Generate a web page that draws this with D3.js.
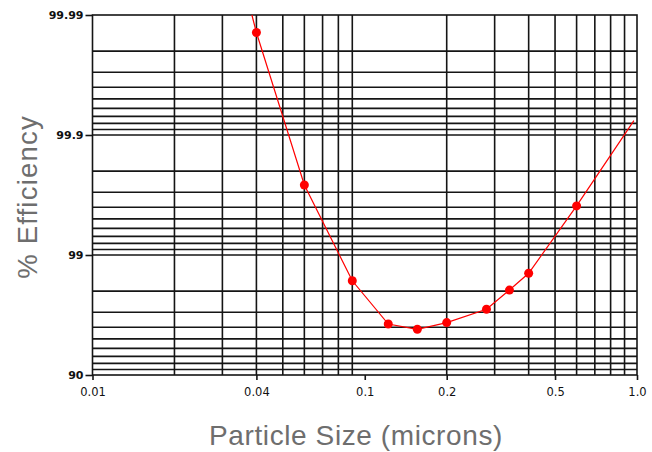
<!DOCTYPE html>
<html><head><meta charset="utf-8">
<script src="https://cdn.jsdelivr.net/npm/d3@7"></script>
<style>body{margin:0;background:#fff}svg{display:block}</style>
</head><body>
<svg id="c" width="652" height="452"></svg>
<script>
// Particle size (microns) and % efficiency
const sizes      = [0.0385, 0.04,   0.06,   0.09,  0.122, 0.156, 0.2,   0.28,  0.34,  0.4,   0.6,   0.974];
const efficiency = [99.99,  99.986, 99.739, 98.36, 96.24, 95.84, 96.34, 97.17, 98.04, 98.58, 99.61, 99.924];
const marked     = [false,  true,   true,   true,  true,  true,  true,  true,  true,  true,  true,  false];

const xTickValues = [0.01, 0.04, 0.1, 0.2, 0.5, 1];
const xTickLabels = ["0.01", "0.04", "0.1", "0.2", "0.5", "1.0"];
const yTickValues = [90, 99, 99.9, 99.99];
const yTickLabels = ["90", "99", "99.9", "99.99"];
const xTitle = "Particle Size (microns)";
const yTitle = "% Efficiency";

const L = 92.5, R = 637, T = 15, B = 375;
const svg = d3.select("#c");
const x = d3.scaleLog().domain([0.01, 1]).range([L, R]);
// y axis is log of penetration (100 - efficiency), high efficiency at top
const y = d3.scaleLog().domain([0.01, 10]).range([T, B]);
const pen = e => 100 - e;

const gridCol = "#151515", gridW = 1.6;

// vertical gridlines (the reference has one line between 0.08 and 0.2, sitting at 0.09)
const xGrid = x.ticks().filter(v => Math.abs(v - 0.1) > 1e-9 && v > 0.0101 && v < 0.99);
svg.append("g").selectAll("line").data(xGrid).join("line")
  .attr("x1", d => x(d)).attr("x2", d => x(d)).attr("y1", T).attr("y2", B)
  .attr("stroke", gridCol).attr("stroke-width", gridW);

// horizontal gridlines
const yGrid = y.ticks().filter(v => v > 0.0101 && v < 9.99);
svg.append("g").selectAll("line").data(yGrid).join("line")
  .attr("y1", d => y(d)).attr("y2", d => y(d)).attr("x1", L).attr("x2", R)
  .attr("stroke", gridCol).attr("stroke-width", gridW);

// frame
svg.append("rect").attr("x", L).attr("y", T).attr("width", R - L).attr("height", B - T)
  .attr("fill", "none").attr("stroke", gridCol).attr("stroke-width", gridW);

// axes
const xAxis = d3.axisBottom(x).tickValues(xTickValues)
  .tickFormat((d, i) => xTickLabels[i]).tickSize(5).tickSizeOuter(0).tickPadding(8);
const gx = svg.append("g").attr("transform", `translate(0,${B})`).call(xAxis);
gx.select(".domain").remove();
gx.selectAll("line").attr("stroke", gridCol).attr("stroke-width", gridW);
gx.selectAll("text").attr("font-family", "DejaVu Sans").attr("font-size", 11.5).attr("fill", "#111");

const yAxis = d3.axisLeft(y).tickValues(yTickValues.map(pen))
  .tickFormat((d, i) => yTickLabels[i]).tickSize(7).tickSizeOuter(0).tickPadding(2);
const gy = svg.append("g").attr("transform", `translate(${L},0)`).call(yAxis);
gy.select(".domain").remove();
gy.selectAll("line").attr("stroke", gridCol).attr("stroke-width", gridW);
gy.selectAll("text").attr("font-family", "DejaVu Sans").attr("font-size", 11)
  .attr("font-weight", "bold").attr("fill", "#111");

// curve
const pts = sizes.map((s, i) => ({ s, e: efficiency[i], m: marked[i] }));
const line = d3.line().x(d => x(d.s)).y(d => y(pen(d.e)));
svg.append("path").datum(pts).attr("d", line)
  .attr("fill", "none").attr("stroke", "#ff0000").attr("stroke-width", 1.2);
svg.append("g").selectAll("circle").data(pts.filter(d => d.m)).join("circle")
  .attr("cx", d => x(d.s)).attr("cy", d => y(pen(d.e))).attr("r", 4.5).attr("fill", "#ff0000");

// axis titles
svg.append("text").attr("x", 356).attr("y", 445).attr("text-anchor", "middle")
  .attr("font-family", "Liberation Sans").attr("font-size", 28).attr("letter-spacing", 0.6)
  .attr("fill", "#6e6e6e").text(xTitle);
svg.append("text").attr("transform", "translate(37,197) rotate(-90)").attr("text-anchor", "middle")
  .attr("font-family", "Liberation Sans").attr("font-size", 27.5).attr("letter-spacing", 1.2)
  .attr("fill", "#6e6e6e").text(yTitle);
</script>
</body></html>
